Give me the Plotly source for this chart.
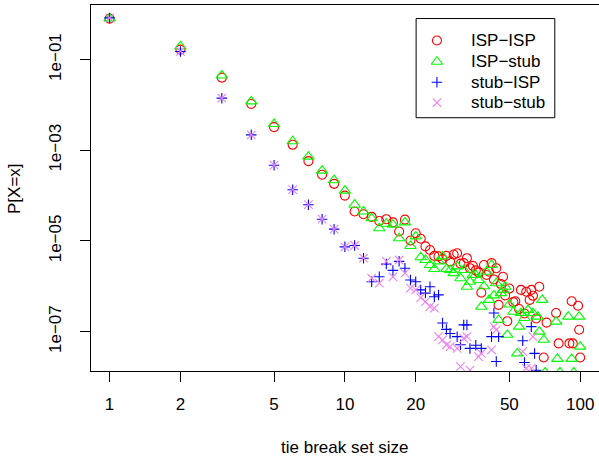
import plotly.graph_objects as go

# ---------------- data ----------------
isp_isp_x = [1, 2, 3, 4, 5, 6, 7, 8, 9, 10, 11, 12, 13, 14, 15, 16, 17, 18, 19, 20,
             21, 22, 23, 24, 25, 26, 27, 28, 29, 30, 31, 32, 33, 34, 35, 36, 37, 38, 39, 40,
             41, 42, 43, 44, 45, 46, 47, 48, 49, 50, 52, 53, 55, 56, 58, 59, 61, 62, 63, 65,
             67, 70, 72, 79, 81, 90, 92, 93, 98, 99, 100]
isp_isp_p = [0.80, 1.66e-1, 4.0e-2, 1.05e-2, 3.24e-3, 1.32e-3, 5.75e-4, 2.88e-4, 1.82e-4, 1.0e-4,
             4.47e-5, 3.89e-5, 3.39e-5, 2.75e-5, 3.02e-5, 2.57e-5, 1.62e-5, 2.95e-5, 1.02e-5, 1.48e-5,
             1.12e-5, 7.59e-6, 6.31e-6, 4.68e-6, 4.57e-6, 3.98e-6, 4.68e-6, 3.55e-6, 5.01e-6, 5.37e-6,
             3.16e-6, 3.24e-6, 4.17e-6, 2.51e-6, 2.82e-6, 2.24e-6, 2.0e-6, 7.24e-7, 2.95e-6, 1.78e-6,
             2.09e-6, 3.24e-6, 1.41e-6, 2.51e-6, 3.89e-7, 1.12e-6, 1.62e-6, 6.31e-7, 1.70e-7, 8.91e-7,
             4.47e-7, 4.68e-7, 3.16e-7, 8.32e-7, 2.51e-7, 7.59e-7, 5.01e-7, 8.32e-7, 6.17e-7, 1.95e-7,
             9.77e-7, 2.69e-8, 1.58e-7, 2.57e-7, 5.50e-8, 5.50e-8, 4.68e-7, 5.50e-8, 3.72e-7, 1.10e-7,
             2.69e-8]

isp_stub_x = [1, 2, 3, 4, 5, 6, 7, 8, 9, 10, 11, 12, 13, 14, 15, 16, 17, 18, 19, 20,
              21, 22, 23, 24, 25, 26, 27, 28, 29, 30, 31, 32, 33, 34, 35, 36, 37, 38, 39, 40,
              41, 42, 43, 44, 45, 46, 47, 48, 49, 50, 52, 54, 55, 56, 58, 60, 63, 66, 67, 69,
              70, 71, 79, 80, 82, 89, 92, 94, 99, 100]
isp_stub_p = [0.81, 1.95e-1, 4.47e-2, 1.20e-2, 3.80e-3, 1.58e-3, 7.24e-4, 3.55e-4, 2.19e-4, 1.29e-4,
              6.31e-5, 4.47e-5, 3.16e-5, 1.91e-5, 2.40e-5, 2.29e-5, 1.15e-5, 2.57e-5, 7.76e-6, 1.26e-5,
              4.37e-6, 3.80e-6, 2.95e-6, 2.40e-6, 3.55e-6, 4.57e-6, 2.40e-6, 2.29e-6, 1.95e-6, 2.75e-6,
              1.51e-6, 2.29e-6, 9.77e-7, 1.26e-6, 1.78e-6, 1.78e-6, 1.38e-6, 3.55e-7, 1.0e-6, 2.09e-6,
              5.01e-7, 2.95e-6, 6.31e-7, 1.17e-6, 1.82e-7, 7.08e-7, 8.32e-7, 9.77e-7, 8.51e-8, 3.98e-7,
              2.75e-7, 3.31e-8, 1.29e-7, 2.57e-7, 2.0e-7, 3.02e-7, 2.57e-7, 2.14e-7, 1.0e-7, 5.01e-7,
              6.61e-8, 1.26e-8, 1.66e-7, 2.51e-8, 1.26e-8, 2.14e-7, 2.51e-8, 1.26e-8, 2.14e-7, 4.68e-8]

stub_isp_x = [1, 2, 3, 4, 5, 6, 7, 8, 9, 10, 11, 12, 13, 14, 15, 16, 17, 18, 19, 20,
              21, 22, 23, 24, 25, 26, 27, 28, 30, 31, 32, 33, 34, 36, 38, 42, 43, 44, 45, 57,
              58, 62, 64, 65]
stub_isp_p = [0.83, 1.51e-1, 1.41e-2, 2.19e-3, 4.68e-4, 1.35e-4, 6.31e-5, 3.02e-5, 1.82e-5, 7.41e-6,
              7.94e-6, 4.17e-6, 1.26e-6, 1.62e-6, 3.09e-6, 2.24e-6, 3.55e-6, 2.51e-6, 1.38e-6, 1.26e-6,
              8.32e-7, 7.08e-7, 9.77e-7, 5.89e-7, 6.46e-7, 1.55e-7, 1.12e-7, 9.12e-8, 7.76e-8, 5.13e-8,
              1.41e-7, 1.41e-7, 4.27e-8, 5.01e-8, 4.27e-8, 7.76e-8, 2.57e-7, 2.19e-8, 7.76e-8, 6.31e-8,
              2.09e-8, 1.29e-7, 3.31e-8, 1.41e-8]

stub_stub_x = [1, 2, 3, 4, 5, 6, 7, 8, 9, 10, 11, 12, 13, 14, 15, 16, 17, 18, 19, 20,
               21, 22, 23, 24, 25, 26, 27, 28, 30, 31, 32, 33, 34, 37, 38, 42, 43, 44, 57, 59,
               62, 63]
stub_stub_p = [0.83, 1.51e-1, 1.41e-2, 2.19e-3, 4.68e-4, 1.35e-4, 6.31e-5, 3.02e-5, 1.82e-5, 7.41e-6,
               7.94e-6, 4.17e-6, 1.51e-6, 1.17e-6, 3.55e-6, 1.62e-6, 3.80e-6, 1.95e-6, 9.12e-7, 8.32e-7,
               5.62e-7, 4.57e-7, 3.55e-7, 3.31e-7, 7.76e-8, 6.61e-8, 5.13e-8, 4.68e-8, 4.27e-8, 1.70e-8,
               7.08e-8, 7.76e-8, 1.41e-8, 2.82e-8, 3.31e-8, 3.98e-8, 1.29e-7, 1.10e-7, 3.63e-8, 1.55e-8,
               1.55e-8, 7.76e-8]

series_names = ["ISP\u2212ISP", "ISP\u2212stub", "stub\u2212ISP", "stub\u2212stub"]

x_tickvals = [1, 2, 5, 10, 20, 50, 100]
x_ticktext = ["1", "2", "5", "10", "20", "50", "100"]
y_tickvals = [1e-1, 1e-3, 1e-5, 1e-7]
y_ticktext = ["1e\u221201", "1e\u221203", "1e\u221205", "1e\u221207"]

# ---------------- styling ----------------
symbols = ["circle-open", "triangle-up-open", "cross-thin-open", "x-thin-open"]
colors = ["#FF0000", "#00FF00", "#0000FF", "#EE82EE"]
sizes = [9, 10, 7.5, 8.5]
FONT = "Liberation Sans, Arial, Helvetica, sans-serif"

fig = go.Figure()
data_x = [isp_isp_x, isp_stub_x, stub_isp_x, stub_stub_x]
data_p = [isp_isp_p, isp_stub_p, stub_isp_p, stub_stub_p]
for name, xs, ps, sym, col, sz in zip(series_names, data_x, data_p, symbols, colors, sizes):
    fig.add_trace(go.Scatter(
        x=xs, y=ps, mode="markers", name=name, showlegend=False,
        marker=dict(symbol=sym, size=sz, color=col, line=dict(color=col, width=1.1)),
    ))

# ---------------- legend (R-style boxed key, drawn on an overlay 0..1 axis) ----------------
leg_sym_x = 0.681
leg_text_x = 0.744
leg_rows = [0.903, 0.845, 0.789, 0.733]
for name, sym, col, sz, ry in zip(series_names, symbols, colors, sizes, leg_rows):
    fig.add_trace(go.Scatter(
        x=[leg_sym_x], y=[ry], xaxis="x2", yaxis="y2", mode="markers",
        showlegend=False, hoverinfo="skip",
        marker=dict(symbol=sym, size=sz, color=col, line=dict(color=col, width=1.1)),
    ))
    fig.add_annotation(x=leg_text_x, y=ry, xref="x2", yref="y2", text=name,
                       showarrow=False, xanchor="left", yanchor="middle",
                       font=dict(family=FONT, size=17, color="black"))
fig.add_shape(type="rect", xref="x2", yref="y2", x0=0.640, x1=0.913, y0=0.692, y1=0.963,
              line=dict(color="black", width=1), fillcolor="rgba(0,0,0,0)")

# axis titles
fig.add_annotation(x=0.5, y=-0.208, xref="paper", yref="paper", text="tie break set size",
                   showarrow=False, xanchor="center", yanchor="middle",
                   font=dict(family=FONT, size=17, color="black"))
fig.add_annotation(x=-0.1516, y=0.5, xref="paper", yref="paper", text="P[X=x]",
                   showarrow=False, xanchor="center", yanchor="middle", textangle=-90,
                   font=dict(family=FONT, size=17, color="black"))

fig.update_layout(
    width=599, height=459,
    margin=dict(l=91, r=0, t=5, b=88),
    paper_bgcolor="white", plot_bgcolor="white",
    font=dict(family=FONT, size=17, color="black"),
    showlegend=False,
    xaxis=dict(
        type="log", range=[-0.079, 2.080], automargin=False,
        tickvals=x_tickvals, ticktext=x_ticktext,
        ticks="outside", ticklen=10, tickwidth=1, tickcolor="black",
        showline=True, linecolor="black", linewidth=1, mirror=True,
        showgrid=False, zeroline=False,
        ticklabelstandoff=8,
    ),
    yaxis=dict(
        type="log", range=[-7.868, 0.204], automargin=False,
        tickvals=y_tickvals, ticktext=y_ticktext, tickangle=-90,
        ticks="outside", ticklen=10, tickwidth=1, tickcolor="black",
        showline=True, linecolor="black", linewidth=1, mirror=False,
        showgrid=False, zeroline=False,
        ticklabelstandoff=12,
    ),
    xaxis2=dict(overlaying="x", range=[0, 1], visible=False, fixedrange=True),
    yaxis2=dict(overlaying="y", range=[0, 1], visible=False, fixedrange=True),
)

fig.write_html("out.html", config={"displayModeBar": False},
               post_script="document.body.style.margin='0px';")
